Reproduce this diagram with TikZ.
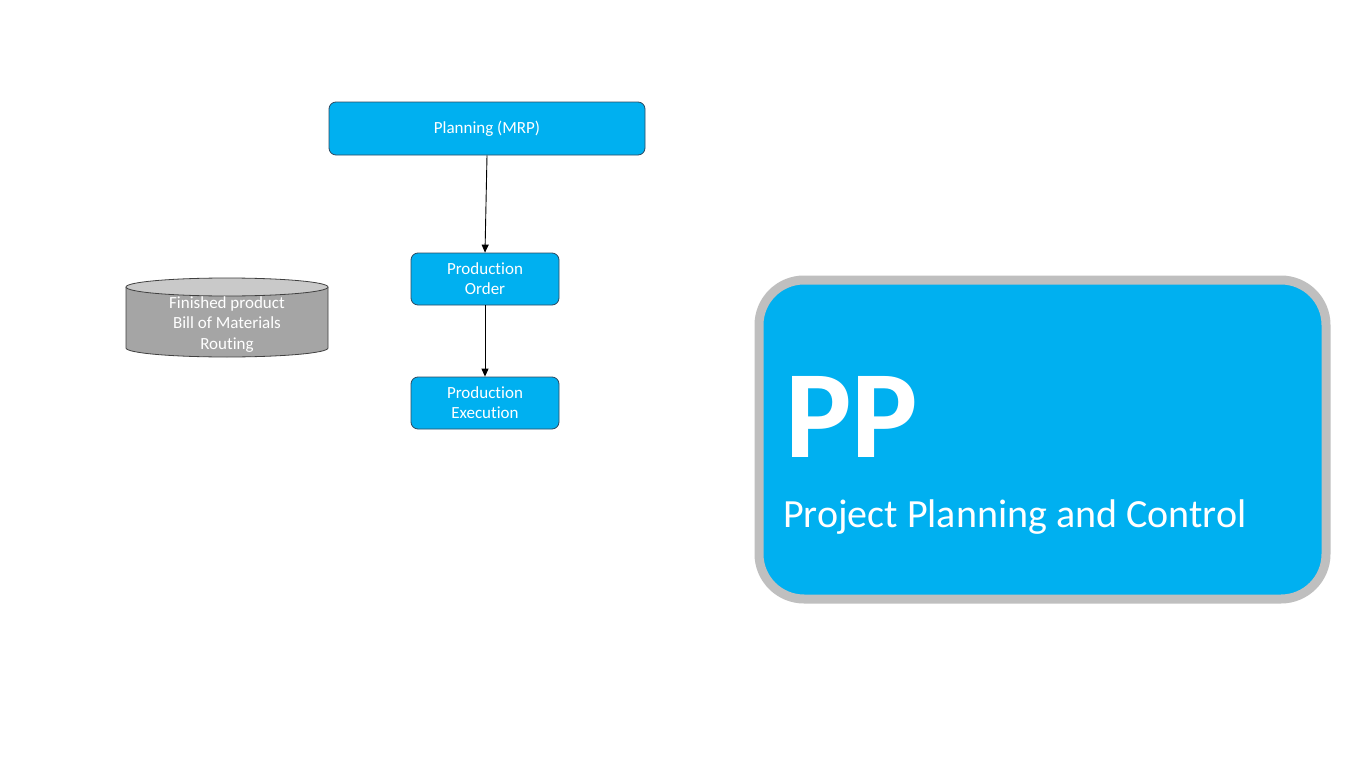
\documentclass[tikz,border=0pt]{standalone}
\usepackage{fontspec}
\setmainfont[Ligatures=NoCommon]{Carlito}
\usetikzlibrary{arrows.meta}
\definecolor{sapblue}{HTML}{00B0F0}
\definecolor{boxline}{HTML}{2E4A62}
\definecolor{cylbody}{HTML}{A5A5A5}
\definecolor{cyltop}{HTML}{C9C9C9}
\definecolor{cylline}{HTML}{404040}
\definecolor{ppframe}{HTML}{BFBFBF}
\tikzset{
  proc/.style={draw=boxline, fill=sapblue, rounded corners=7pt, text=white,
    font=\fontsize{17}{20}\selectfont, align=center, inner sep=0pt, line width=0.8pt},
  flow/.style={draw=black, line width=0.9pt, -{Triangle[length=8pt,width=7pt]}},
  cylshape/.style={draw=cylline, line width=0.8pt},
  wtext/.style={text=white, inner sep=0pt}
}
\begin{document}
\begin{tikzpicture}[x=1pt,y=1pt]
\useasboundingbox[fill=white] (0,0) rectangle (1366,-768);

% flow boxes
\node[proc, minimum width=316pt, minimum height=53pt] (plan) at (487,-128.5) {Planning (MRP)};
\node[proc, minimum width=148pt, minimum height=52pt] (order) at (485,-279) {Production\\Order};
\node[proc, minimum width=148pt, minimum height=52pt] (exec) at (485,-403) {Production\\Execution};

\draw[flow] (plan.south) -- (order.north);
\draw[flow] (order.south) -- (exec.north);

% master data cylinder
\fill[cylbody] (126,-287) -- (126,-348) arc[start angle=180,end angle=360,x radius=101,y radius=9] -- (328,-287) -- cycle;
\draw[cylshape] (126,-287) -- (126,-348) arc[start angle=180,end angle=360,x radius=101,y radius=9] -- (328,-287);
\filldraw[cylshape, fill=cyltop] (227,-287) ellipse [x radius=101, y radius=9];
\node[wtext, align=center, font=\fontsize{17}{20.5}\selectfont] (data) at (227,-324.5) {Finished product\\Bill of Materials\\Routing};

% PP module box
\node[draw=ppframe, line width=9pt, fill=sapblue, rounded corners=45pt,
      minimum width=567pt, minimum height=319pt, inner sep=0pt] (pp) at (1042.5,-439.5) {};
\node[wtext, anchor=base west, font=\bfseries\fontsize{125}{125}\selectfont] (pptitle) at (785,-457) {PP};
\node[wtext, anchor=base west, font=\fontsize{40}{48}\selectfont] (ppsub) at (783,-527) {Project Planning and Control};
\end{tikzpicture}
\end{document}
